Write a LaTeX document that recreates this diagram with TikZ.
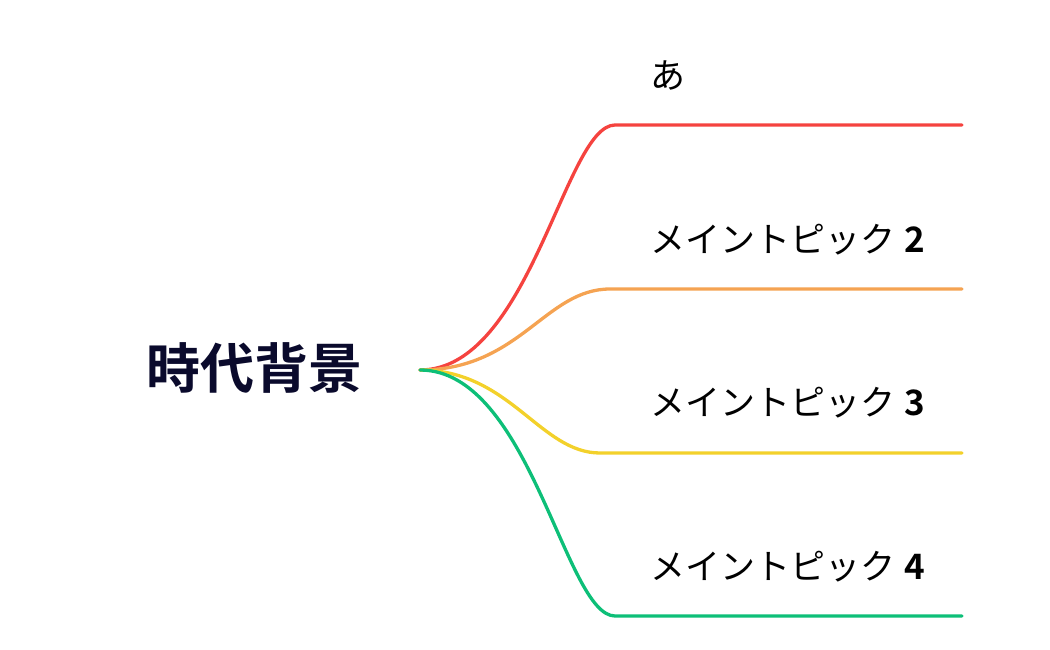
\documentclass[tikz,border=0pt]{standalone}
\usepackage{fontspec}
\newfontfamily\jpfont{Noto Sans CJK JP}
\newfontfamily\jpbold{Noto Sans CJK JP Bold}
\definecolor{titlecol}{HTML}{0A0A2C}
\definecolor{cred}{HTML}{F5433F}
\definecolor{corange}{HTML}{F5A352}
\definecolor{cyellow}{HTML}{F3D12B}
\definecolor{cgreen}{HTML}{0DBF78}
\begin{document}
\begin{tikzpicture}[x=1pt,y=-1pt,
  branch/.style={line width=3.3pt,line cap=round},
  lbl/.style={anchor=west,inner sep=0pt,font=\fontsize{35}{38}\jpfont,text=black},
  title/.style={inner sep=0pt,font=\fontsize{54}{60}\jpbold,text=titlecol}]
\useasboundingbox (0,0) rectangle (1050,650);
\node[title] (root) at (254,368) {時代背景};
\coordinate (o) at (420,370);
\coordinate (s1) at (615,125); \coordinate (e1) at (962,125);
\coordinate (s2) at (610,289); \coordinate (e2) at (962,289);
\coordinate (s3) at (600,453); \coordinate (e3) at (962,453);
\coordinate (s4) at (615,616); \coordinate (e4) at (962,616);
\node[lbl] (l1) at (650,75) {あ};
\node[lbl] (l2) at (650,240) {メイントピック\hspace{9pt}{\jpbold 2}};
\node[lbl] (l3) at (650,403) {メイントピック\hspace{9pt}{\jpbold 3}};
\node[lbl] (l4) at (650,567) {メイントピック\hspace{9pt}{\jpbold 4}};
\draw[branch,cred] (o) .. controls (530,370) and (565,125) .. (s1) -- (e1);
\draw[branch,corange] (o) .. controls (520,370) and (545,289) .. (s2) -- (e2);
\draw[branch,cyellow] (o) .. controls (510,370) and (540,453) .. (s3) -- (e3);
\draw[branch,cgreen] (o) .. controls (530,370) and (565,616) .. (s4) -- (e4);
\end{tikzpicture}
\end{document}
